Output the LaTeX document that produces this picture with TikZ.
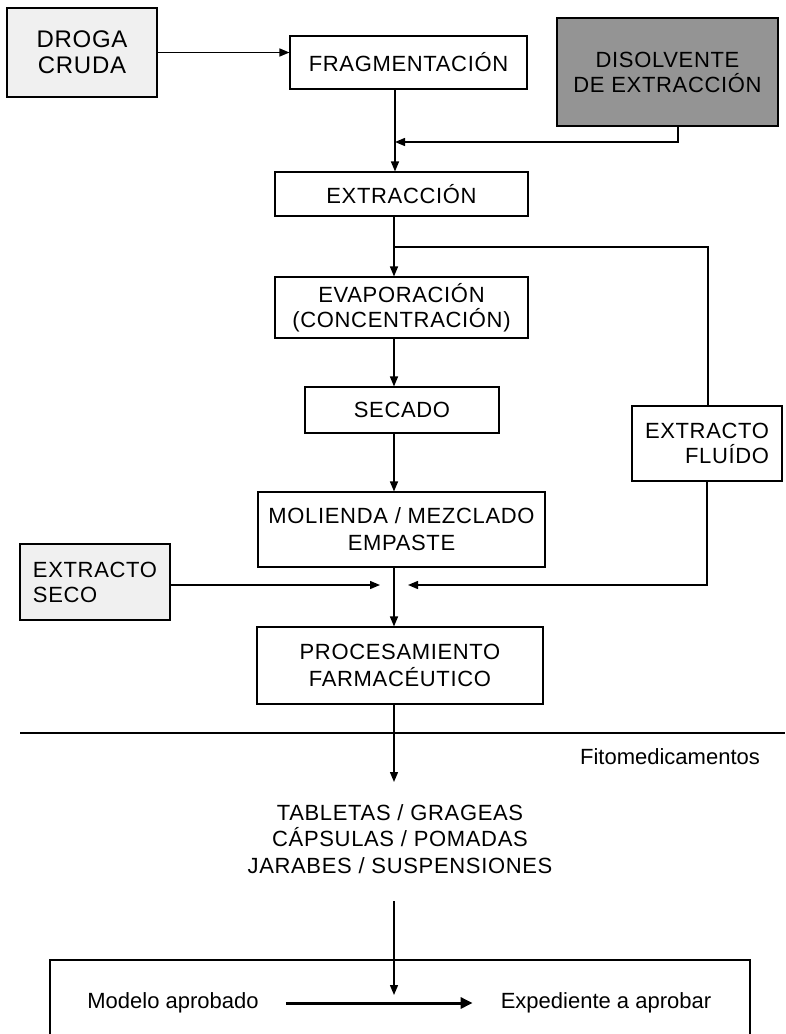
\documentclass[tikz,border=0pt]{standalone}
\usepackage{fontspec}
\setmainfont{Liberation Sans}
\newfontfamily\capsfont[LetterSpace=3]{Liberation Sans}
\usetikzlibrary{arrows.meta}
\begin{document}
\begin{tikzpicture}[x=1pt,y=-1pt,
  every node/.style={font=\capsfont\fontsize{22}{25}\selectfont},
  proc/.style={draw, line width=1.1pt, rectangle, inner sep=0pt, align=center},
  src/.style={draw, line width=1.8pt, rectangle, inner sep=0pt},
  conn/.style={line width=1.4pt},
  arr/.style={line width=1.4pt, -{Triangle[length=10pt,width=8pt]}},
  bigarr/.style={line width=3pt, -{Triangle[length=12pt,width=11pt]}},
  lbl/.style={inner sep=0pt, align=center},
  lower/.style={font=\fontsize{22}{26}\selectfont}]
\useasboundingbox (0,0) rectangle (785,1034);
\fill[white] (0,0) rectangle (785,1034);

% nodes
\node[src, fill=black!6, minimum width=150pt, minimum height=89pt, align=center, font=\capsfont\fontsize{24}{26}\selectfont] (droga) at (82,52.5) {DROGA\\CRUDA};
\node[proc, minimum width=237pt, minimum height=53pt] (frag) at (408.5,62.5) {FRAGMENTACIÓN};
\node[src, fill=black!42, minimum width=221pt, minimum height=108pt, align=center] (disol) at (667.5,72) {DISOLVENTE\\DE EXTRACCIÓN};
\node[proc, minimum width=253pt, minimum height=44pt] (extr) at (401.5,194) {EXTRACCIÓN};
\node[proc, minimum width=253pt, minimum height=61pt] (evap) at (401.5,307.5) {EVAPORACIÓN\\(CONCENTRACIÓN)};
\node[proc, minimum width=194pt, minimum height=46pt] (secado) at (402,410) {SECADO};
\node[proc, minimum width=287pt, minimum height=75pt, font=\capsfont\fontsize{22}{27}\selectfont] (moli) at (401.5,529.5) {MOLIENDA / MEZCLADO\\EMPASTE};
\node[proc, minimum width=286pt, minimum height=77pt, font=\capsfont\fontsize{22}{27}\selectfont] (procf) at (400,665.5) {PROCESAMIENTO\\FARMACÉUTICO};
\node[proc, line width=1.5pt, minimum width=150pt, minimum height=75pt, align=right] (fluido) at (707,443.5) {EXTRACTO\\FLUÍDO};
\node[src, fill=black!6, minimum width=150pt, minimum height=76pt, align=left] (seco) at (95,582) {EXTRACTO\\SECO};

\node[lbl, lower] (fito) at (670,757) {Fitomedicamentos};
\node[lbl, font=\capsfont\fontsize{22}{26.5}\selectfont] (formas) at (400,839) {TABLETAS / GRAGEAS\\CÁPSULAS / POMADAS\\JARABES / SUSPENSIONES};
\node[lbl, lower] (modelo) at (173,1003) {Modelo aprobado};
\node[lbl, lower] (exped) at (606,1003) {Expediente a aprobar};

% coordinates
\coordinate (spine) at (394,0);
\coordinate (j1) at (395,142);
\coordinate (j2) at (394,247);
\coordinate (j3) at (408,585);
\coordinate (j4) at (380,585);
\coordinate (t1) at (394,782);
\coordinate (s2) at (394,901);
\coordinate (t2) at (394,995);
\coordinate (hl) at (20,733);
\coordinate (hr) at (785,733);

% connectors
\draw[arr] (droga.east) -- (droga.east -| frag.west);
\draw[arr] (frag.south -| j1) -- (extr.north -| j1);
\draw[arr] ([xshift=10.5pt]disol.south) |- (j1);
\draw[arr] (extr.south -| spine) -- (evap.north -| spine);
\draw[conn] (j2) -| ([xshift=1pt]fluido.north);
\draw[arr] (evap.south -| spine) -- (secado.north -| spine);
\draw[arr] (secado.south -| spine) -- (moli.north -| spine);
\draw[arr] (moli.south -| spine) -- (procf.north -| spine);
\draw[arr] (fluido.south) |- (j3);
\draw[arr] (seco.east |- j4) -- (j4);
\draw[arr] (procf.south -| spine) -- (t1);
\draw[conn] (hl) -- (hr);
\draw[arr] (s2) -- (t2);
\draw[line width=1.3pt] (50,1036) -- (50,960) -- (750,960) -- (750,1036);
\draw[bigarr] ([xshift=27pt]modelo.east) -- ([xshift=-28pt]exped.west);
\end{tikzpicture}
\end{document}
